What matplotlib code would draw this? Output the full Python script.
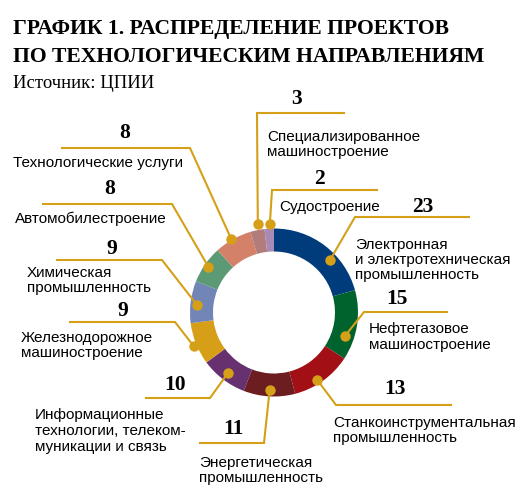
import numpy as np
import matplotlib.pyplot as plt

# data, in clockwise order from the top of the ring
sectors = [
    "Электронная\nи электротехническая\nпромышленность",
    "Нефтегазовое\nмашиностроение",
    "Станкоинструментальная\nпромышленность",
    "Энергетическая\nпромышленность",
    "Информационные\nтехнологии, телеком-\nмуникации и связь",
    "Железнодорожное\nмашиностроение",
    "Химическая\nпромышленность",
    "Автомобилестроение",
    "Технологические услуги",
    "Специализированное\nмашиностроение",
    "Судостроение",
]
projects = [23, 15, 13, 11, 10, 9, 9, 8, 8, 3, 2]
colors = ["#003b7b", "#00622d", "#a20f14", "#6b1d1f", "#67306f", "#d79f17",
          "#7185b6", "#5c9a76", "#d4816a", "#b17c79", "#a78bb6"]

GOLD = "#d5a017"
W, H = 528, 501
cx, cy = 274, 312.5
R_OUT, R_W = 84, 23
PITCH = 15.5

# leader layout per sector: dot radius, angle tweak, elbow, line end,
# number centre, label (left x, first baseline)
layout = [
    dict(r=77, da=9.5, elbow=(355, 217), end=469, num=(423, 205), lab=(355, 248.5)),
    dict(r=75, da=9.0, elbow=(364, 312), end=447, num=(397, 298), lab=(369, 333.5)),
    dict(r=80, da=3.0, elbow=(336, 405), end=451, num=(395, 387), lab=(333, 426.5)),
    dict(r=78, da=0.0, elbow=(264, 443), end=200, num=(233, 428), lab=(199, 466.5)),
    dict(r=76, da=0.0, elbow=(210, 398), end=146, num=(175, 383), lab=(35, 419.5)),
    dict(r=87, da=-1.0, elbow=(175, 322), end=70, num=(123, 310), lab=(21, 341.7)),
    dict(r=77, da=-2.0, elbow=(162, 260), end=57, num=(112, 247), lab=(27, 276.7)),
    dict(r=80, da=0.0, elbow=(172, 204), end=43, num=(110, 188), lab=(15, 223.5)),
    dict(r=85, da=-1.0, elbow=(190, 148), end=62, num=(125, 132), lab=(13, 166.5)),
    dict(r=90, da=1.0, elbow=(257, 113), end=344, num=(296, 97), lab=(267, 140.5)),
    dict(r=89, da=0.6, elbow=(272, 190), end=377, num=(319, 177), lab=(279, 211.5)),
]

fig = plt.figure(figsize=(W / 100, H / 100), dpi=100)
ax = fig.add_axes([0, 0, 1, 1])

# y axis is flipped, so startangle=-90 / counterclock=True reads clockwise from the top on screen
ax.pie(projects, colors=colors, startangle=-90, counterclock=True,
       radius=R_OUT, center=(cx, cy),
       wedgeprops=dict(width=R_W, linewidth=0))
ax.set_xlim(0, W)
ax.set_ylim(H, 0)
ax.set_aspect("equal")
ax.axis("off")

total = sum(projects)
cum = np.cumsum([0] + projects)
sans = "Liberation Sans"
serif = "Liberation Serif"

for i, (name, val) in enumerate(zip(sectors, projects)):
    lay = layout[i]
    ang = np.radians((cum[i] + val / 2) / total * 360 + lay["da"])
    dx = cx + lay["r"] * np.sin(ang)
    dy = cy - lay["r"] * np.cos(ang)
    ex, ey = lay["elbow"]
    ax.plot([dx, ex, lay["end"]], [dy, ey, ey], color=GOLD, lw=1.5,
            solid_joinstyle="miter", zorder=3)
    ax.plot(dx, dy, "o", ms=7.5, color=GOLD, mec="none", zorder=4)
    nx, ny = lay["num"]
    ax.text(nx, ny + 6.5, str(val), ha="center", va="baseline",
            fontsize=15.5, fontweight="bold", family=serif)
    lx, ly = lay["lab"]
    for k, line in enumerate(name.split("\n")):
        ax.text(lx, ly + k * PITCH, line, ha="left", va="baseline",
                fontsize=11, family=sans)

ax.text(13, 34, "ГРАФИК 1. РАСПРЕДЕЛЕНИЕ ПРОЕКТОВ", ha="left", va="baseline",
        fontsize=15.6, fontweight="bold", family=serif)
ax.text(13, 62, "ПО ТЕХНОЛОГИЧЕСКИМ НАПРАВЛЕНИЯМ", ha="left", va="baseline",
        fontsize=15.6, fontweight="bold", family=serif)
ax.text(13, 88, "Источник: ЦПИИ", ha="left", va="baseline", fontsize=13.5, family=serif)

fig.savefig("out.png", dpi=100, facecolor="white")
